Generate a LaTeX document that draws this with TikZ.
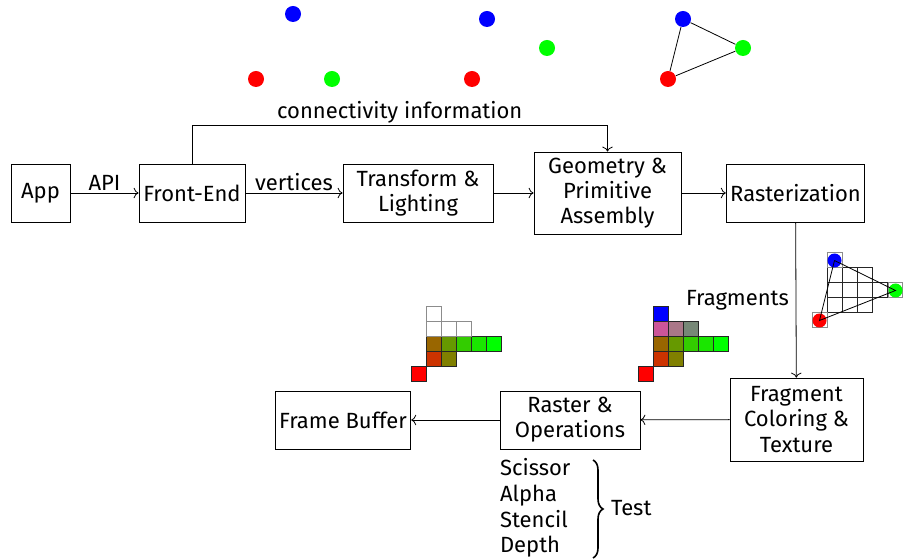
\documentclass[tikz,border=0pt]{standalone}
\usepackage{fontspec}
\setmainfont{Fira Sans}
\usepackage{tikz}
\usetikzlibrary{arrows.meta, decorations.pathreplacing, positioning}
\usepackage{xcolor}

\definecolor{frgA}{HTML}{996600}
\definecolor{frgB}{HTML}{669900}
\definecolor{frgC}{HTML}{33CC00}
\definecolor{frgD}{HTML}{1AE600}
\definecolor{frgE}{HTML}{00FF00}
\definecolor{frgF}{HTML}{CC3300}
\definecolor{frgG}{HTML}{808000}
\definecolor{frgH}{HTML}{CC5599}
\definecolor{frgI}{HTML}{AA7788}
\definecolor{frgJ}{HTML}{778877}
\definecolor{vblue}{HTML}{0000FF}
\definecolor{vred}{HTML}{FF0000}
\definecolor{vgreen}{HTML}{00FF00}

\tikzset{
  stage/.style={draw, align=center, minimum height=29pt, inner sep=2pt},
  dot/.style={circle, inner sep=0pt, minimum size=8pt},
  cell/.style={draw=black!85, line width=0.5pt},
  blank/.style={draw=black!45, line width=0.5pt},
  lbl/.style={above, yshift=-2.5pt},
}

\begin{document}
\begin{tikzpicture}[x=0.5pt, y=-0.5pt, font=\fontsize{11}{12.6}\selectfont]
  \useasboundingbox (0,0) rectangle (903,560);

  % pipeline stages
  \node[stage, minimum width=29.5pt] (app) at (40.5,193) {App};
  \node[stage, minimum width=53pt] (fe) at (192,193) {Front-End};
  \node[stage, minimum width=75pt] (tl) at (418,193) {Transform \&\\Lighting};
  \node[stage, minimum width=73.5pt, minimum height=41pt] (geo) at (607.5,193) {Geometry \&\\Primitive\\Assembly};
  \node[stage, minimum width=68.5pt] (rast) at (795.5,193) {Rasterization};
  \node[stage, minimum width=66.5pt, minimum height=41.5pt] (frag) at (796.5,419.5) {Fragment\\Coloring \&\\Texture};
  \node[stage, minimum width=70pt] (rop) at (570,420) {Raster \&\\Operations};
  \node[stage, minimum width=67pt] (fb) at (343,420) {Frame Buffer};

  \draw[->] (app) -- node[lbl] {API} (fe);
  \draw[->] (fe) -- node[lbl] {vertices} (tl);
  \draw[->] (tl) -- (geo);
  \draw[->] (geo) -- (rast);
  \coordinate (conn) at (192,125);
  \draw[->] (fe.north) -- (conn) -| node[lbl, pos=0.25] {connectivity information} (geo.north);
  \draw[->] (rast) -- node[left] {Fragments} (frag);
  \draw[->] (frag) -- (rop);
  \draw[->] (rop) -- (fb);

  % vertices
  \node[dot, fill=vblue] (b1) at (293,14) {};
  \node[dot, fill=vred] (r1) at (256,79) {};
  \node[dot, fill=vgreen] (g1) at (332,79) {};

  \node[dot, fill=vblue] (b2) at (487,19) {};
  \node[dot, fill=vgreen] (g2) at (547,48) {};
  \node[dot, fill=vred] (r2) at (472,79) {};

  % primitives
  \node[dot, fill=vblue] (b3) at (683,19) {};
  \node[dot, fill=vgreen] (g3) at (743,48) {};
  \node[dot, fill=vred] (r3) at (668,79) {};
  \draw (b3) -- (g3) -- (r3) -- (b3);

  % rasterized triangle
  \foreach \x in {827,842,857} {
    \draw[cell] (\x,268) rectangle +(15,15);
    \draw[cell] (\x,298) rectangle +(15,15);
  }
  \foreach \x in {827,842,857,872}
    \draw[cell] (\x,283) rectangle +(15,15);
  \draw[blank] (827,253) rectangle +(15,15);
  \draw[blank] (888,283) rectangle +(14.5,15);
  \draw[blank] (812,313) rectangle +(15,15);
  \node[dot, fill=vblue, minimum size=7pt] (b4) at (834.5,260.5) {};
  \node[dot, fill=vgreen, minimum size=7pt] (g4) at (895.5,290.5) {};
  \node[dot, fill=vred, minimum size=7pt] (r4) at (819.5,320.5) {};
  \draw (b4.center) -- (g4.center) -- (r4.center) -- (b4.center);

  % colored fragments
  \foreach \dx in {0,227} {
    \foreach \x/\y/\c in {426/337/frgA, 441/337/frgB, 456/337/frgC, 471/337/frgD,
                          486/337/frgE, 426/352/frgF, 441/352/frgG, 411/367/vred}
      \filldraw[cell, fill=\c] (\x+\dx,\y) rectangle +(15,15);
  }
  % after depth test
  \foreach \x/\y in {426/307, 426/322, 441/322, 456/322}
    \draw[blank] (\x,\y) rectangle +(15,15);
  % before depth test
  \foreach \x/\y/\c in {653/307/vblue, 653/322/frgH, 668/322/frgI, 683/322/frgJ}
    \filldraw[cell, fill=\c] (\x,\y) rectangle +(15,15);

  % tests
  \node[anchor=west, align=left, font=\fontsize{11}{12.8}\selectfont] (tests) at (493,508)
    {Scissor\\Alpha\\Stencil\\Depth};
  \coordinate (bt) at (593,460);
  \coordinate (bb) at (593,558);
  \draw[decorate, decoration={brace, amplitude=5pt}, line width=0.8pt] (bt) -- (bb);
  \node[anchor=west] (test) at (604,508) {Test};
\end{tikzpicture}
\end{document}
